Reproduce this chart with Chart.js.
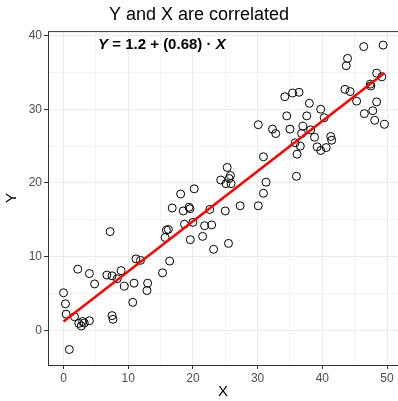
<!DOCTYPE html>
<html>
<head>
<meta charset="utf-8">
<script src="https://cdn.jsdelivr.net/npm/chart.js@4.4.1/dist/chart.umd.min.js"></script>
<style>
  html, body { margin: 0; padding: 0; background: #fff; }
</style>
</head>
<body>
<canvas id="chart" width="398" height="401"></canvas>
<script>
// ---- data ----
const xValues = [
  0.9, 0.0, 0.3, 0.4, 1.7, 2.2, 4.0, 4.8, 7.2, 6.7,
  7.5, 8.3, 8.9, 9.4, 10.9, 13.0, 12.9, 10.7, 7.5, 7.65,
  2.35, 2.75, 2.95, 3.2, 4.0, 11.2, 11.9, 15.3, 15.9, 15.7,
  16.4, 16.2, 16.8, 18.5, 19.4, 19.55, 18.1, 22.6, 25.0, 27.3,
  30.1, 18.7, 20.0, 21.8, 22.9, 19.6, 21.5, 23.2, 25.5, 20.2,
  24.3, 25.3, 25.8, 25.6, 25.1, 25.9, 30.9, 31.3, 30.9, 30.1,
  32.3, 32.8, 34.2, 35.4, 36.4, 38.0, 34.5, 37.6, 35.0, 37.0,
  36.8, 38.2, 39.75, 40.3, 38.8, 35.8, 36.6, 36.1, 39.2, 39.75,
  40.6, 41.3, 41.45, 36.0, 43.5, 44.3, 45.3, 43.7, 43.9, 46.4,
  49.4, 48.4, 49.2, 47.4, 47.5, 48.4, 47.8, 46.5, 48.1, 49.6
];
const yValues = [
  -2.6, 5.1, 3.6, 2.2, 1.85, 8.3, 7.7, 6.3, 13.4, 7.5,
  7.4, 7.0, 8.1, 6.0, 6.4, 6.4, 5.4, 3.8, 2.0, 1.5,
  0.95, 0.6, 1.2, 1.0, 1.3, 9.7, 9.5, 7.8, 13.6, 12.6,
  9.4, 13.7, 16.6, 16.2, 16.7, 16.5, 18.5, 16.4, 16.2, 16.9,
  16.9, 14.4, 14.65, 14.2, 14.3, 12.3, 12.75, 11.0, 11.8, 19.2,
  20.4, 22.1, 21.0, 20.6, 19.9, 19.9, 23.55, 20.1, 18.6, 27.9,
  27.3, 26.7, 31.7, 32.2, 32.3, 30.8, 29.1, 29.1, 27.3, 27.7,
  26.7, 27.2, 30.0, 28.85, 26.2, 25.45, 25.0, 23.9, 24.9, 24.4,
  24.8, 26.3, 25.8, 20.9, 32.7, 32.4, 31.1, 35.9, 36.9, 38.5,
  38.7, 34.9, 34.4, 33.4, 33.15, 31.0, 29.8, 29.4, 28.5, 27.95
];
const intercept = 1.2;
const slope = 0.68;
const xTickLabels = [0, 10, 20, 30, 40, 50];
const yTickLabels = [0, 10, 20, 30, 40];

const points = xValues.map((x, i) => ({ x, y: yValues[i] }));
const xMin = Math.min(...xValues);
const xMax = Math.max(...xValues);
const fitLine = [
  { x: xMin, y: intercept + slope * xMin },
  { x: xMax, y: intercept + slope * xMax },
];

const AXIS_DARK = "#333333";
const GRID_MAJOR = "#ebebeb";
const GRID_MINOR = "#f3f3f3";
const FONT = "'Liberation Sans', Arial, sans-serif";

const isMajor = (v, list) => list.indexOf(v) !== -1;

/* top border + the equation label */
const panelExtras = {
  id: "panelExtras",
  afterDraw(chart) {
    const { ctx, chartArea, scales } = chart;
    ctx.save();
    ctx.strokeStyle = AXIS_DARK;
    ctx.lineWidth = 1;
    ctx.beginPath();
    ctx.moveTo(chartArea.left, chartArea.top + 0.5);
    ctx.lineTo(chartArea.right, chartArea.top + 0.5);
    ctx.stroke();

    // equation: Y = 1.2 + (0.68) · X  (Y and X italic)
    const parts = [
      { t: "Y", f: "italic bold 15px " + FONT },
      { t: " = " + intercept + " + (" + slope + ") \u00B7 ", f: "bold 15px " + FONT },
      { t: "X", f: "italic bold 15px " + FONT },
    ];
    let total = 0;
    parts.forEach((p) => {
      ctx.font = p.f;
      p.w = ctx.measureText(p.t).width;
      total += p.w;
    });
    const cx = scales.x.getPixelForValue(15.2);
    const cy = scales.y.getPixelForValue(38.75);
    let x = cx - total / 2;
    ctx.fillStyle = "#000";
    ctx.textBaseline = "middle";
    ctx.textAlign = "left";
    parts.forEach((p) => {
      ctx.font = p.f;
      ctx.fillText(p.t, x, cy);
      x += p.w;
    });
    ctx.restore();
  },
};

new Chart(document.getElementById("chart"), {
  type: "scatter",
  data: {
    datasets: [
      {
        type: "line",
        data: fitLine,
        borderColor: "#ff0000",
        borderWidth: 2.5,
        pointRadius: 0,
        fill: false,
      },
      {
        data: points,
        pointRadius: 4,
        pointBorderWidth: 1,
        pointBorderColor: "#000000",
        pointBackgroundColor: "rgba(0,0,0,0)",
      },
    ],
  },
  options: {
    responsive: false,
    animation: false,
    layout: { padding: 0, autoPadding: false },
    plugins: {
      legend: { display: false },
      tooltip: { enabled: false },
      title: {
        display: true,
        text: "Y and X are correlated",
        color: "#000",
        font: { family: FONT, size: 18, weight: "normal" },
        padding: { top: 4.5, bottom: 5 },
      },
    },
    scales: {
      x: {
        type: "linear",
        min: -2.4,
        max: 51.7,
        afterFit: (s) => {
          s.height = 36;
          s.paddingLeft = 0;
          s.paddingRight = 0;
        },
        border: { color: AXIS_DARK, width: 1 },
        grid: {
          color: (c) => (c.tick && isMajor(c.tick.value, xTickLabels) ? GRID_MAJOR : GRID_MINOR),
          tickColor: (c) => (c.tick && isMajor(c.tick.value, xTickLabels) ? AXIS_DARK : "rgba(0,0,0,0)"),
          tickLength: 4,
        },
        ticks: {
          stepSize: 5,
          includeBounds: false,
          maxRotation: 0,
          autoSkip: false,
          padding: 2,
          color: "#4d4d4d",
          font: { family: FONT, size: 12 },
          callback: (v) => (isMajor(v, xTickLabels) ? String(v) : ""),
        },
        title: {
          display: true,
          text: "X",
          color: "#000",
          font: { family: FONT, size: 15 },
          padding: { top: 0, bottom: 0 },
        },
      },
      y: {
        type: "linear",
        min: -4.7,
        max: 40.6,
        afterFit: (s) => {
          s.width = 48;
          s.paddingTop = 0;
          s.paddingBottom = 0;
        },
        border: { color: AXIS_DARK, width: 1 },
        grid: {
          color: (c) => (c.tick && isMajor(c.tick.value, yTickLabels) ? GRID_MAJOR : GRID_MINOR),
          tickColor: (c) => (c.tick && isMajor(c.tick.value, yTickLabels) ? AXIS_DARK : "rgba(0,0,0,0)"),
          tickLength: 4,
        },
        ticks: {
          stepSize: 5,
          includeBounds: false,
          autoSkip: false,
          padding: 2,
          color: "#4d4d4d",
          font: { family: FONT, size: 12 },
          callback: (v) => (isMajor(v, yTickLabels) ? String(v) : ""),
        },
        title: {
          display: true,
          text: "Y",
          color: "#000",
          font: { family: FONT, size: 15 },
          padding: { top: 3, bottom: 0 },
        },
      },
    },
  },
  plugins: [panelExtras],
});
</script>
</body>
</html>
